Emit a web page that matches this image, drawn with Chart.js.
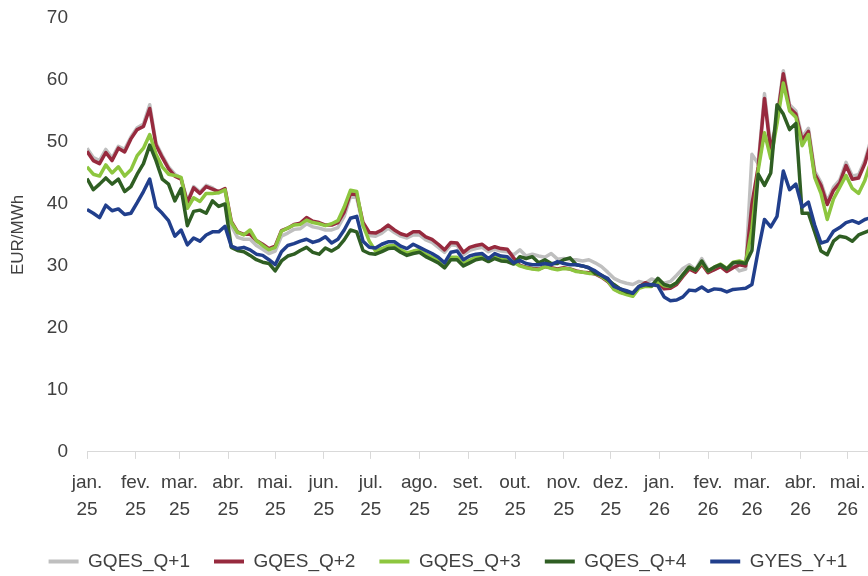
<!DOCTYPE html>
<html>
<head>
<meta charset="utf-8">
<script src="https://cdn.jsdelivr.net/npm/chart.js@4.4.1/dist/chart.umd.min.js"></script>
<style>
  html, body { margin: 0; padding: 0; background: #fff; }
</style>
</head>
<body>
<canvas id="chart" width="868" height="576"></canvas>
<script>
// x positions: days since 1 Jan 2025, one reading every 4 days
const days = Array.from({ length: 126 }, (_, i) => i * 4);

const monthNames = ['jan.', 'fev.', 'mar.', 'abr.', 'mai.', 'jun.', 'jul.', 'ago.', 'set.', 'out.', 'nov.', 'dez.'];
const seriesNames = ['GQES_Q+1', 'GQES_Q+2', 'GQES_Q+3', 'GQES_Q+4', 'GYES_Y+1'];
const yTicks = [0, 10, 20, 30, 40, 50, 60, 70];

// EUR/MWh
const gqesQ1 = [49.0,47.5,47.0,48.8,47.4,49.3,48.8,50.8,52.3,52.9,
  56.0,49.8,47.8,46.0,44.8,44.2,40.4,42.8,41.9,43.0,
  42.6,41.8,42.2,36.5,34.6,34.3,34.3,33.3,32.7,32.0,
  32.4,34.8,35.3,35.9,36.0,36.8,36.3,36.1,35.8,35.8,
  36.2,38.0,41.2,41.0,36.5,34.9,34.8,35.3,36.1,35.4,
  34.8,34.5,35.0,35.0,34.2,33.8,33.0,32.2,33.4,33.3,
  31.8,32.5,32.8,33.0,32.3,32.7,32.4,32.3,31.8,32.6,
  31.6,31.9,31.6,31.4,32.0,31.1,31.2,31.0,31.0,30.8,
  31.0,30.5,29.9,29.0,28.0,27.5,27.2,27.0,27.5,27.2,
  27.9,27.5,27.2,27.5,28.5,29.6,30.2,29.4,31.2,29.4,
  29.4,30.0,29.3,30.2,29.2,29.5,48.0,46.5,57.8,49.0,
  54.0,61.5,56.0,55.0,50.8,52.2,45.3,43.5,40.4,42.7,
  43.9,46.7,44.5,44.7,47.0,50.5];

const gqesQ2 = [48.5,47.0,46.5,48.3,47.0,49.0,48.4,50.5,52.0,52.5,
  55.4,49.5,47.5,45.7,44.5,44.0,40.2,42.6,41.7,42.8,
  42.4,42.0,42.5,37.2,35.5,35.1,35.1,34.1,33.5,32.8,
  33.2,35.7,36.1,36.7,36.9,37.8,37.2,37.0,36.6,36.6,
  37.0,38.7,41.7,41.5,37.0,35.4,35.3,35.8,36.6,35.8,
  35.2,34.9,35.5,35.5,34.7,34.3,33.5,32.6,33.8,33.7,
  32.2,33.0,33.3,33.5,32.7,33.1,32.8,32.7,31.3,30.1,
  29.8,29.6,29.5,29.9,29.7,29.5,29.7,29.5,29.2,29.0,
  28.9,28.7,28.2,27.5,26.3,25.8,25.5,25.3,26.6,27.3,
  26.8,27.3,26.3,26.4,27.0,28.3,29.5,29.0,30.3,28.9,
  29.4,29.9,29.1,29.7,30.2,30.0,40.0,46.0,57.0,48.5,
  53.5,61.0,55.5,54.5,50.3,51.7,44.8,43.0,39.9,42.2,
  43.4,46.2,44.0,44.2,46.5,50.0];

const gqesQ3 = [46.0,44.8,44.5,46.3,45.0,46.0,44.5,45.5,47.8,49.0,
  51.2,48.0,46.0,44.8,44.6,44.3,39.3,41.0,40.4,41.7,
  41.7,41.8,42.3,37.0,35.4,35.0,35.8,34.1,33.3,32.6,
  33.0,35.6,36.1,36.6,36.7,37.4,37.0,36.8,36.5,36.8,
  37.3,39.5,42.2,42.0,36.5,34.0,32.4,32.8,33.2,33.3,
  32.6,32.1,32.4,32.6,31.9,31.4,30.9,30.1,31.4,31.4,
  30.5,30.9,31.4,31.6,31.1,31.5,31.1,31.0,30.6,30.0,
  29.7,29.5,29.4,29.9,29.6,29.4,29.6,29.5,29.1,29.0,
  28.8,28.8,28.3,27.6,26.2,25.7,25.4,25.1,26.4,26.7,
  26.7,27.5,26.8,26.7,27.3,28.6,29.8,29.3,30.6,29.2,
  29.8,30.3,29.6,30.6,30.8,30.5,36.0,45.5,51.5,47.3,
  53.0,59.5,55.0,54.0,49.4,51.2,44.3,41.7,37.5,40.8,
  42.7,44.6,42.5,41.7,43.8,47.0];

const gqesQ4 = [44.1,42.3,43.2,44.2,43.2,44.0,42.0,42.8,44.8,46.5,
  49.5,47.0,44.0,43.2,40.5,42.5,36.5,38.8,39.0,38.5,
  40.5,39.6,40.0,33.0,32.5,32.3,31.7,31.0,30.6,30.4,
  29.2,30.8,31.6,31.9,32.5,33.0,32.2,31.9,32.9,32.4,
  33.0,34.2,35.8,35.5,32.5,32.0,31.9,32.3,32.8,32.9,
  32.2,31.7,32.0,32.2,31.5,31.0,30.5,29.7,31.0,31.0,
  30.0,30.5,31.0,31.2,30.7,31.2,30.8,30.7,30.3,31.5,
  31.2,31.5,30.5,31.0,30.4,30.4,31.0,31.3,30.2,30.0,
  29.7,28.8,28.5,27.8,27.0,26.3,25.8,25.6,26.7,27.0,
  26.8,28.0,27.0,26.7,27.3,28.6,29.8,29.3,30.8,29.2,
  29.8,30.2,29.5,30.5,30.6,30.4,32.5,44.8,43.0,45.0,
  56.0,54.5,52.0,53.0,38.5,38.5,35.5,32.4,31.8,34.0,
  34.8,34.6,34.0,35.0,35.4,35.8];

const gyesY1 = [39.1,38.5,37.8,39.8,38.9,39.2,38.3,38.5,40.2,42.0,
  44.0,39.5,38.5,37.3,34.8,35.8,33.4,34.5,34.0,35.0,
  35.5,35.5,36.4,33.2,32.8,33.0,32.6,31.9,31.7,31.0,
  30.2,32.3,33.3,33.6,34.0,34.3,33.8,34.1,34.7,33.7,
  34.3,35.8,37.7,38.0,34.0,33.0,32.9,33.5,33.9,33.9,
  33.2,32.8,33.5,33.0,32.5,32.0,31.4,30.5,32.2,32.4,
  31.0,31.6,31.9,32.0,31.2,32.0,31.6,31.5,30.5,30.9,
  30.4,30.2,30.2,30.4,30.2,30.7,30.4,30.2,30.2,30.0,
  29.7,29.2,28.5,28.0,26.7,26.3,26.0,25.6,26.7,27.0,
  27.0,26.8,25.0,24.4,24.5,25.0,26.1,26.0,26.6,25.9,
  26.3,26.2,25.8,26.2,26.3,26.4,27.0,32.5,37.5,36.3,
  38.0,45.3,42.3,43.2,39.5,40.3,36.6,33.7,34.0,35.6,
  36.2,37.0,37.3,36.9,37.5,37.8];

const seriesValues = [gqesQ1, gqesQ2, gqesQ3, gqesQ4, gyesY1];
const colors = ['#bfbfbf', '#972a3e', '#8dc63f', '#2f5e23', '#213f8c'];
const textColor = '#404040';
const fontFamily = "'Liberation Sans', Arial, sans-serif";

// first day of each month, Jan 2025 .. May 2026
const start = Date.UTC(2025, 0, 1);
const monthTicks = [];
for (let k = 0; k < 17; k++) {
    const y = 2025 + Math.floor(k / 12);
    const m = k % 12;
    monthTicks.push({ value: (Date.UTC(y, m, 1) - start) / 864e5, label: [monthNames[m], String(y).slice(2)] });
}

const datasets = seriesNames.map((name, k) => ({
    label: name,
    data: days.map((d, i) => ({ x: d, y: seriesValues[k][i] })),
    borderColor: colors[k],
    backgroundColor: colors[k],
    borderWidth: 3.5,
    pointRadius: 0,
    tension: 0,
    borderJoinStyle: 'round',
    order: 5 - k   // blue line on top, grey at the bottom
}));

// the legend in the original sits a bit right of centre
const legendShift = {
    id: 'legendShift',
    afterLayout(chart) {
        chart.legend.left += 14;
        chart.legend.right += 14;
    }
};

new Chart(document.getElementById('chart'), {
    type: 'line',
    data: { datasets: datasets },
    plugins: [legendShift],
    options: {
        responsive: false,
        animation: false,
        layout: { padding: { top: 18, right: 0, bottom: -5, left: 0 } },
        plugins: {
            tooltip: { enabled: false },
            legend: {
                position: 'bottom',
                labels: {
                    color: textColor,
                    font: { family: fontFamily, size: 19 },
                    boxWidth: 30,
                    boxHeight: 4,
                    padding: 24,
                    sort: (a, b) => a.datasetIndex - b.datasetIndex,
                    generateLabels: chart => Chart.defaults.plugins.legend.labels.generateLabels(chart)
                        .map(item => Object.assign(item, { lineWidth: 0 }))
                }
            }
        },
        scales: {
            x: {
                type: 'linear',
                min: 0,
                max: 498,
                afterBuildTicks: axis => {
                    axis.ticks = monthTicks.map(t => ({ value: t.value }));
                },
                ticks: {
                    autoSkip: false,
                    maxRotation: 0,
                    color: textColor,
                    font: { family: fontFamily, size: 19, lineHeight: 1.45 },
                    padding: 10,
                    callback: value => {
                        const t = monthTicks.find(m => m.value === value);
                        return t ? t.label : '';
                    }
                },
                grid: { drawOnChartArea: false, drawTicks: true, tickLength: 7, color: '#d9d9d9' },
                border: { color: '#d9d9d9' },
                afterFit: scale => {
                    scale.height -= 6;
                    scale.paddingLeft = 0;
                    scale.paddingRight = 0;   // plot runs to the right edge
                }
            },
            y: {
                min: 0,
                max: 70,
                afterBuildTicks: axis => {
                    axis.ticks = yTicks.map(v => ({ value: v }));
                },
                ticks: { color: textColor, font: { family: fontFamily, size: 19 }, padding: 19 },
                grid: { display: false, drawTicks: false },
                border: { display: false },
                title: {
                    display: true,
                    text: 'EUR/MWh',
                    color: textColor,
                    font: { family: fontFamily, size: 17 },
                    padding: { top: 8, bottom: 0 }
                },
                afterFit: scale => {
                    scale.width = 87;
                    scale.paddingTop = 0;
                    scale.paddingBottom = 0;
                }
            }
        }
    }
});
</script>
</body>
</html>
